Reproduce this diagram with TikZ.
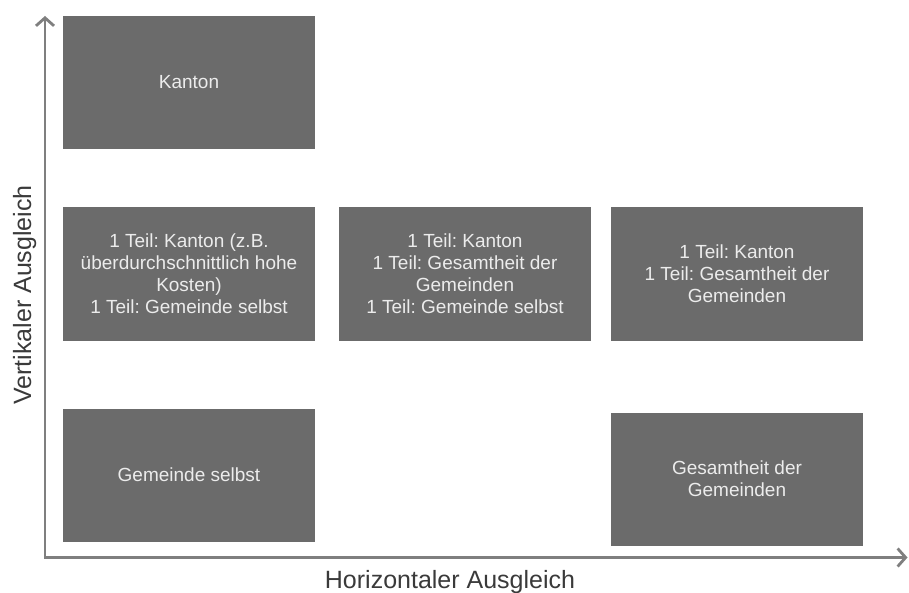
\documentclass[tikz,border=0pt]{standalone}
\usepackage{fontspec}
\setmainfont{Liberation Sans}
\frenchspacing
\usetikzlibrary{arrows.meta}
\definecolor{boxfill}{HTML}{6B6B6B}
\definecolor{boxtext}{HTML}{ECECEC}
\definecolor{axiscol}{HTML}{7F7F7F}
\definecolor{labelcol}{HTML}{3A3A3A}
\begin{document}
\begin{tikzpicture}[x=1pt,y=-1pt,
  cell/.style={fill=boxfill, text=boxtext, minimum width=252pt, minimum height=133pt,
    inner sep=0pt, align=center, font=\fontsize{19}{22}\selectfont},
  axis/.style={draw=axiscol, line width=2.8pt, arrows={Straight Barb[length=8pt,width=18pt]-Straight Barb[length=8pt,width=18pt]}},
  axlabel/.style={text=labelcol, font=\fontsize{25}{30}\selectfont, inner sep=0pt}]
\useasboundingbox (0,0) rectangle (909,593);
\node[cell] (kanton) at (189,82.5) {Kanton};
\node[cell] (a) at (189,274) {1 Teil: Kanton (z.B.\\überdurchschnittlich hohe\\Kosten)\\1 Teil: Gemeinde selbst};
\node[cell] (b) at (465,274) {1 Teil: Kanton\\1 Teil: Gesamtheit der\\Gemeinden\\1 Teil: Gemeinde selbst};
\node[cell] (c) at (737,274) {1 Teil: Kanton\\1 Teil: Gesamtheit der\\Gemeinden};
\node[cell] (gem) at (189,475) {Gemeinde selbst};
\node[cell] (ges) at (737,479) {Gesamtheit der\\Gemeinden};
\coordinate (o) at (45,557.5);
\coordinate (ytop) at (45,16);
\coordinate (xend) at (907.5,557.5);
\draw[axis] (ytop) -- (o) -- (xend);
\node[axlabel, anchor=base] (hl) at (450,588) {Horizontaler Ausgleich};
\node[axlabel, rotate=90, anchor=base] (vl) at (31,295) {Vertikaler Ausgleich};
\end{tikzpicture}
\end{document}
